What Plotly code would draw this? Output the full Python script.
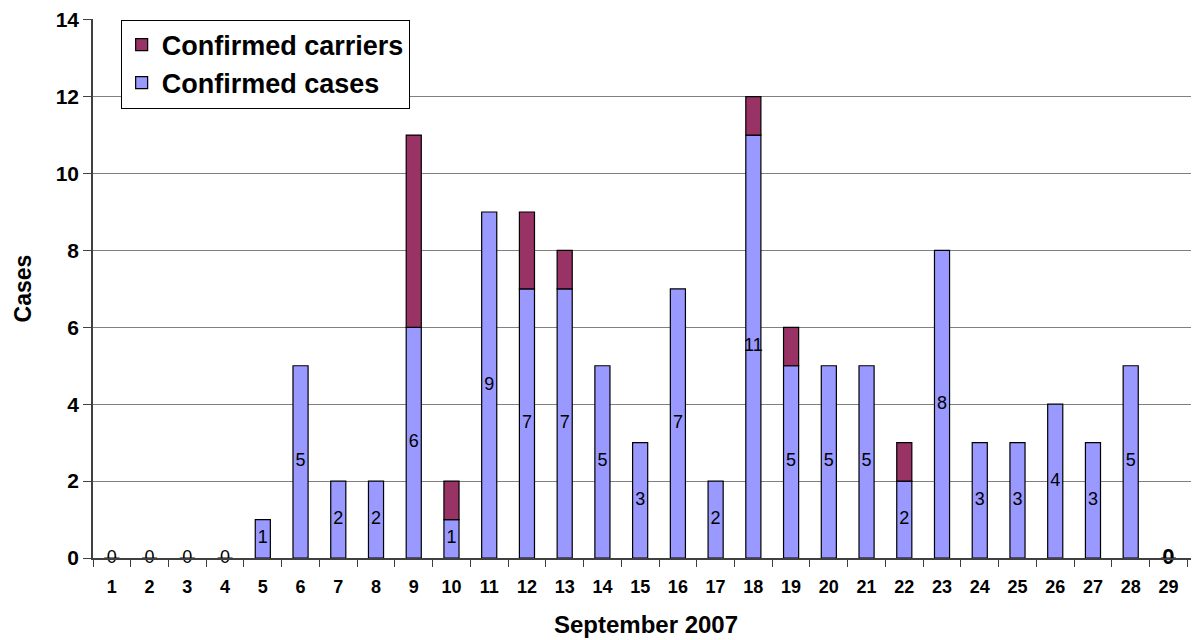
import plotly.graph_objects as go

days = [str(d) for d in range(1, 30)]
confirmed_cases = [0, 0, 0, 0, 1, 5, 2, 2, 6, 1, 9, 7, 7, 5, 3, 7, 2, 11, 5, 5, 5, 2, 8, 3, 3, 4, 3, 5, 0]
confirmed_carriers = [0, 0, 0, 0, 0, 0, 0, 0, 5, 1, 0, 2, 1, 0, 0, 0, 0, 1, 1, 0, 0, 1, 0, 0, 0, 0, 0, 0, 0]
y_ticks = [0, 2, 4, 6, 8, 10, 12, 14]

FONT = "Arial, 'Liberation Sans', sans-serif"
CASE_COLOR = "#9999FF"
CARRIER_COLOR = "#993366"

fig = go.Figure()
fig.add_trace(go.Bar(
    x=days, y=confirmed_cases, name="Confirmed cases",
    marker=dict(color=CASE_COLOR, line=dict(color="black", width=1.2)),
    width=0.4,
))
fig.add_trace(go.Bar(
    x=days, y=[c if c else None for c in confirmed_carriers], base=confirmed_cases,
    name="Confirmed carriers",
    marker=dict(color=CARRIER_COLOR, line=dict(color="black", width=1.2)),
    width=0.4,
))

# data labels for confirmed cases, centred in each bar
fig.add_trace(go.Scatter(
    x=days[:-1], y=[v / 2 for v in confirmed_cases[:-1]],
    text=[str(v) for v in confirmed_cases[:-1]],
    mode="text", textposition="middle center",
    textfont=dict(family=FONT, size=18, color="black"),
    showlegend=False, hoverinfo="skip", cliponaxis=False,
))
fig.add_trace(go.Scatter(
    x=days[-1:], y=[v / 2 for v in confirmed_cases[-1:]],
    text=[str(v) for v in confirmed_cases[-1:]],
    mode="text", textposition="middle center",
    textfont=dict(family=FONT, size=22, color="black", weight="bold"),
    showlegend=False, hoverinfo="skip", cliponaxis=False,
))

# the page body has an 8px margin, so the figure is sized to fit the window
fig.update_layout(
    width=1191, height=632,
    margin=dict(l=85, r=0, t=11, b=82, autoexpand=False),
    paper_bgcolor="white", plot_bgcolor="white",
    barmode="overlay",
    font=dict(family=FONT, color="black"),
    legend=dict(
        x=0.025, y=0.999, xanchor="left", yanchor="top",
        bordercolor="black", borderwidth=1, bgcolor="white",
        font=dict(family=FONT, size=27, color="black", weight="bold"),
        traceorder="reversed",
        itemwidth=30, tracegroupgap=0,
    ),
    xaxis=dict(
        type="category", range=[-0.5, 28.81], automargin=False,
        showline=True, linecolor="#404040", linewidth=1.5,
        ticks="outside", tickson="boundaries", ticklen=7, tickcolor="#404040",
        ticklabelstandoff=12,
        tickfont=dict(family=FONT, size=18, color="black", weight="bold"),
        showgrid=False, zeroline=False,
        title=dict(text="September 2007", standoff=20,
                   font=dict(family=FONT, size=24, color="black", weight="bold")),
    ),
    yaxis=dict(
        range=[0, 14.02], tickvals=y_ticks, automargin=False,
        ticklabeloverflow="allow",
        showline=True, linecolor="#404040", linewidth=1.5,
        ticks="outside", ticklen=8, tickcolor="#404040",
        tickfont=dict(family=FONT, size=21, color="black", weight="bold"),
        showgrid=True, gridcolor="#808080", gridwidth=1,
        zeroline=False,
        title=dict(text="Cases", standoff=18,
                   font=dict(family=FONT, size=23, color="black", weight="bold")),
    ),
)

fig.write_html("out.html")
